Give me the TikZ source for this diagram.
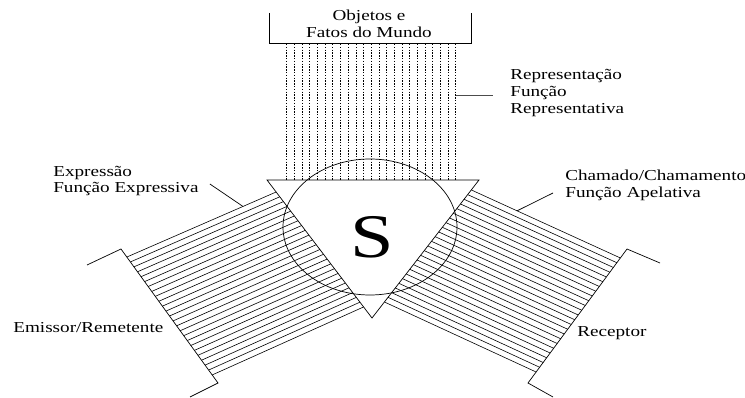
\documentclass[tikz,border=0pt]{standalone}
\usepackage{fontspec}
\setmainfont{Liberation Serif}[FakeStretch=1.26]
\usetikzlibrary{calc}

\begin{document}
\begin{tikzpicture}[x=1pt,y=-1pt,line width=0.7pt,
    label text/.style={font=\fontsize{15.2}{16.7}\selectfont,align=left,inner sep=0pt},
    hatch/.style={line width=0.6pt},
    dotline/.style={line width=0.6pt,dash pattern=on 1.4pt off 1.4pt}]
  \useasboundingbox (0,0) rectangle (745,398);

  \coordinate (tl) at (267,180);
  \coordinate (tr) at (479,180);
  \coordinate (tb) at (372,318);

  \node[label text,align=center] (world) at (369,24) {Objetos e\\Fatos do Mundo};
  \draw (269,13) |- (471,43) -- (471,13);
  \foreach \i in {0,...,22}
    \draw[dotline] (286.7+7.68*\i,44) -- (286.7+7.68*\i,180);

  \coordinate (em1) at (121,249);
  \coordinate (em2) at (218,383);
  \draw (87,265) -- (em1) -- (em2) -- (190,397);
  \coordinate (re1) at (627,249);
  \coordinate (re2) at (528,383);
  \draw (660,263) -- (re1) -- (re2) -- (553,397);

  \coordinate (e1) at ($(em1)!0.06!(em2)$);
  \coordinate (e2) at ($(em1)!0.94!(em2)$);
  \coordinate (f1) at ($(tl)!0.087!(tb)$);
  \coordinate (f2) at ($(tl)!0.92!(tb)$);
  \foreach \t in {0,...,24}
    \draw[hatch] ($(e1)!\t/24!(e2)$) -- ($(f1)!\t/24!(f2)$);

  \coordinate (g1) at ($(re1)!0.067!(re2)$);
  \coordinate (g2) at ($(re1)!0.918!(re2)$);
  \coordinate (h1) at ($(tr)!0.072!(tb)$);
  \coordinate (h2) at ($(tr)!0.884!(tb)$);
  \foreach \t in {0,...,24}
    \draw[hatch] ($(h1)!\t/24!(h2)$) -- ($(g1)!\t/24!(g2)$);

  \draw (tl) -- (tr) -- (tb) -- cycle;
  \draw (370,227) ellipse [x radius=87,y radius=68];
  \node[font=\fontsize{62}{63}\selectfont,inner sep=0pt] (sign) at (372,237) {S};

  \node[label text,anchor=west] (repr) at (510,93) {Representação\\Função\\Representativa};
  \node[label text,anchor=west] (expr) at (53,181) {Expressão\\Função Expressiva};
  \node[label text,anchor=west] (emis) at (13,328) {Emissor/Remetente};
  \node[label text,anchor=west] (apel) at (565,185) {Chamado/Chamamento\\Função Apelativa};
  \node[label text,anchor=west] (recp) at (577,333) {Receptor};

  \coordinate (reprline) at (455.6,95);
  \coordinate (exprline) at ($(f1)!0.222!(e1)$);
  \coordinate (apelline) at ($(h1)!0.307!(g1)$);
  \draw[black!70] (reprline) -- ($(repr.west)+(-17,2)$);
  \draw (exprline) -- ($(expr.east)+(11,3)$);
  \draw (apelline) -- ($(apel.west)+(-12,8)$);
\end{tikzpicture}
\end{document}
